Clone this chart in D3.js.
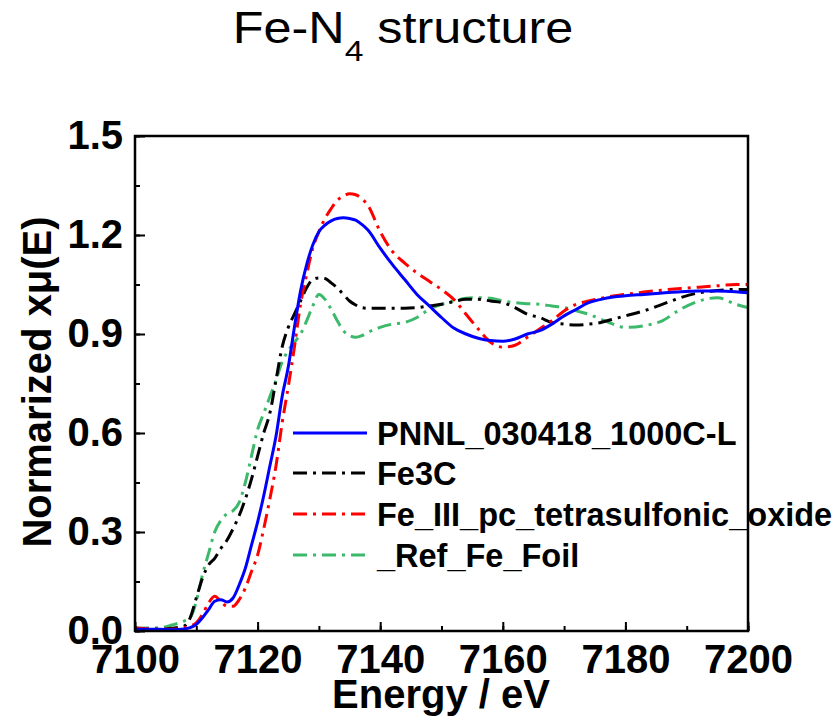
<!DOCTYPE html>
<html>
<head>
<meta charset="utf-8">
<script src="https://cdn.jsdelivr.net/npm/d3@7"></script>
<style>
  body { margin: 0; background: #fff; }
  svg { display: block; font-family: Arial, "Liberation Sans", sans-serif; }
</style>
</head>
<body>
<div id="chart"></div>
<script>
// energy grid (eV) shared by all spectra
const energy = [7100, 7104, 7106, 7108, 7109, 7110, 7111, 7112, 7113, 7114, 7115, 7116, 7117, 7118, 7119,
  7120, 7121, 7122, 7123, 7124, 7125, 7126, 7127, 7128, 7129, 7130, 7131, 7132, 7133, 7134, 7135, 7136,
  7137, 7138, 7140, 7142, 7144, 7146, 7148, 7150, 7152, 7154, 7156, 7158, 7160, 7162, 7164, 7166, 7168,
  7170, 7172, 7174, 7176, 7178, 7180, 7183, 7186, 7189, 7192, 7195, 7198, 7200];

const pnnl = [0.005, 0.005, 0.004, 0.006, 0.01, 0.02, 0.04, 0.065, 0.09, 0.095, 0.088, 0.1, 0.14, 0.19, 0.26,
  0.33, 0.41, 0.5, 0.59, 0.71, 0.8, 0.92, 1.03, 1.11, 1.17, 1.21, 1.23, 1.243, 1.25, 1.252, 1.25, 1.245,
  1.232, 1.215, 1.16, 1.11, 1.065, 1.02, 0.985, 0.95, 0.918, 0.9, 0.887, 0.88, 0.878, 0.885, 0.9, 0.91, 0.93,
  0.955, 0.975, 0.995, 1.005, 1.012, 1.016, 1.02, 1.024, 1.028, 1.03, 1.03, 1.028, 1.025];

const fe3c = [0.005, 0.005, 0.008, 0.015, 0.04, 0.1, 0.16, 0.2, 0.22, 0.25, 0.275, 0.31, 0.35, 0.4, 0.46,
  0.53, 0.6, 0.66, 0.76, 0.86, 0.92, 0.96, 1.0, 1.04, 1.065, 1.07, 1.068, 1.055, 1.04, 1.02, 1.0, 0.988,
  0.98, 0.978, 0.978, 0.978, 0.978, 0.98, 0.985, 0.99, 0.998, 1.005, 1.005, 1.0, 0.995, 0.98, 0.96, 0.95, 0.935,
  0.93, 0.927, 0.93, 0.935, 0.945, 0.955, 0.97, 0.99, 1.01, 1.025, 1.032, 1.035, 1.035];

const fePc = [0.01, 0.005, 0.005, 0.01, 0.015, 0.025, 0.05, 0.085, 0.105, 0.09, 0.075, 0.075, 0.095, 0.13, 0.18,
  0.23, 0.31, 0.4, 0.5, 0.63, 0.74, 0.86, 0.99, 1.08, 1.16, 1.21, 1.25, 1.28, 1.305, 1.318, 1.325, 1.322,
  1.31, 1.29, 1.21, 1.15, 1.115, 1.085, 1.06, 1.035, 1.005, 0.96, 0.915, 0.875, 0.86, 0.866, 0.89, 0.915, 0.94,
  0.97, 0.99, 1.0, 1.008, 1.015, 1.02, 1.027, 1.033, 1.038, 1.042, 1.046, 1.05, 1.05];

const feFoil = [0.008, 0.01, 0.018, 0.03, 0.04, 0.09, 0.17, 0.235, 0.3, 0.335, 0.355, 0.365, 0.39, 0.45, 0.53,
  0.61, 0.66, 0.71, 0.76, 0.815, 0.85, 0.875, 0.9, 0.94, 0.985, 1.02, 1.005, 0.975, 0.94, 0.91, 0.895, 0.89,
  0.895, 0.905, 0.92, 0.93, 0.935, 0.95, 0.975, 0.99, 1.0, 1.008, 1.01, 1.008, 1.0, 0.995, 0.992, 0.99, 0.985,
  0.98, 0.97, 0.96, 0.945, 0.93, 0.92, 0.925, 0.94, 0.975, 1.0, 1.01, 0.99, 0.98];

const seriesNames = ["PNNL_030418_1000C-L", "Fe3C", "Fe_III_pc_tetrasulfonic_oxide", "_Ref_Fe_Foil"];
const seriesValues = [pnnl, fe3c, fePc, feFoil];
const seriesColors = ["#0000ff", "#000000", "#ff0000", "#3cb96a"];
const seriesDash = [null, "14,6,3,6", "14,6,3,6", "14,6,3,6"];

const xTicks = [7100, 7120, 7140, 7160, 7180, 7200];
const yTicks = [0.0, 0.3, 0.6, 0.9, 1.2, 1.5];

const W = 836, H = 725;
const m = {left: 135, right: 748, top: 136, bottom: 631};

const svg = d3.select("#chart").append("svg")
  .attr("width", W)
  .attr("height", H);

const x = d3.scaleLinear().domain([7100, 7200]).range([m.left, m.right]);
const y = d3.scaleLinear().domain([0, 1.5]).range([m.bottom, m.top]);

// title (the original font is a bit stretched sideways)
const title = svg.append("text")
  .attr("transform", "translate(403,43) scale(1.12,1)")
  .attr("text-anchor", "middle")
  .style("font-size", "45px")
  .attr("fill", "#000");
title.append("tspan").text("Fe-N");
title.append("tspan").attr("dy", 18).style("font-size", "30px").text("4");
title.append("tspan").attr("dy", -18).text(" structure");

// clip
svg.append("clipPath").attr("id", "clip")
  .append("rect")
  .attr("x", m.left).attr("y", m.top)
  .attr("width", m.right - m.left).attr("height", m.bottom - m.top);

// curves
const line = d3.line()
  .x((d, i) => x(energy[i]))
  .y(d => y(d))
  .curve(d3.curveMonotoneX);

const curves = svg.append("g").attr("clip-path", "url(#clip)");
// draw order: green, black, red, blue on top
[3, 1, 2, 0].forEach(k => {
  curves.append("path")
    .attr("fill", "none")
    .attr("stroke", seriesColors[k])
    .attr("stroke-width", 3)
    .style("stroke-dasharray", seriesDash[k])
    .attr("d", line(seriesValues[k]));
});

// axes (ticks pointing inward)
const xMinor = d3.range(7100, 7201, 10);
const yMinor = d3.range(0, 1.51, 0.15);

svg.append("g")
  .attr("transform", `translate(0,${m.bottom})`)
  .call(d3.axisBottom(x).tickValues(xMinor).tickSize(-5).tickFormat(""))
  .call(g => g.select(".domain").remove())
  .selectAll("line").attr("stroke-width", 2);

svg.append("g")
  .attr("transform", `translate(0,${m.bottom})`)
  .call(d3.axisBottom(x).tickValues(xTicks).tickSize(-9).tickFormat(d3.format("d")))
  .call(g => g.select(".domain").remove())
  .call(g => g.selectAll("line").attr("stroke-width", 2))
  .call(g => g.selectAll("text")
    .attr("y", 14)
    .attr("dy", "0.71em")
    .style("font-size", "40px")
    .style("font-weight", "bold")
    .style("font-family", "Arial, 'Liberation Sans', sans-serif"));

svg.append("g")
  .attr("transform", `translate(${m.left},0)`)
  .call(d3.axisLeft(y).tickValues(yMinor).tickSize(-5).tickFormat(""))
  .call(g => g.select(".domain").remove())
  .selectAll("line").attr("stroke-width", 2);

svg.append("g")
  .attr("transform", `translate(${m.left},0)`)
  .call(d3.axisLeft(y).tickValues(yTicks).tickSize(-10).tickFormat(d3.format(".1f")))
  .call(g => g.select(".domain").remove())
  .call(g => g.selectAll("line").attr("stroke-width", 2))
  .call(g => g.selectAll("text")
    .attr("x", -12)
    .style("font-size", "40px")
    .style("font-weight", "bold")
    .style("font-family", "Arial, 'Liberation Sans', sans-serif"));

// frame
svg.append("rect")
  .attr("x", m.left).attr("y", m.top)
  .attr("width", m.right - m.left).attr("height", m.bottom - m.top)
  .attr("fill", "none")
  .attr("stroke", "#000")
  .attr("stroke-width", 2.5);

// axis titles
svg.append("text")
  .attr("x", 441)
  .attr("y", 708)
  .attr("text-anchor", "middle")
  .style("font-size", "40px")
  .style("font-weight", "bold")
  .text("Energy / eV");

svg.append("text")
  .attr("transform", "translate(51,382) rotate(-90)")
  .attr("text-anchor", "middle")
  .style("font-size", "40px")
  .style("font-weight", "bold")
  .text("Normarized xμ(E)");

// legend
const legendRows = [433, 473, 514, 555];
const legend = svg.append("g");
seriesNames.forEach((name, k) => {
  const ly = legendRows[k];
  legend.append("line")
    .attr("x1", 293).attr("x2", 367)
    .attr("y1", ly).attr("y2", ly)
    .attr("stroke", seriesColors[k])
    .attr("stroke-width", 3)
    .style("stroke-dasharray", seriesDash[k]);
  legend.append("text")
    .attr("x", 377)
    .attr("y", ly)
    .attr("dy", "0.36em")
    .style("font-size", "32.5px")
    .style("font-weight", "bold")
    .text(name);
});
</script>
</body>
</html>
